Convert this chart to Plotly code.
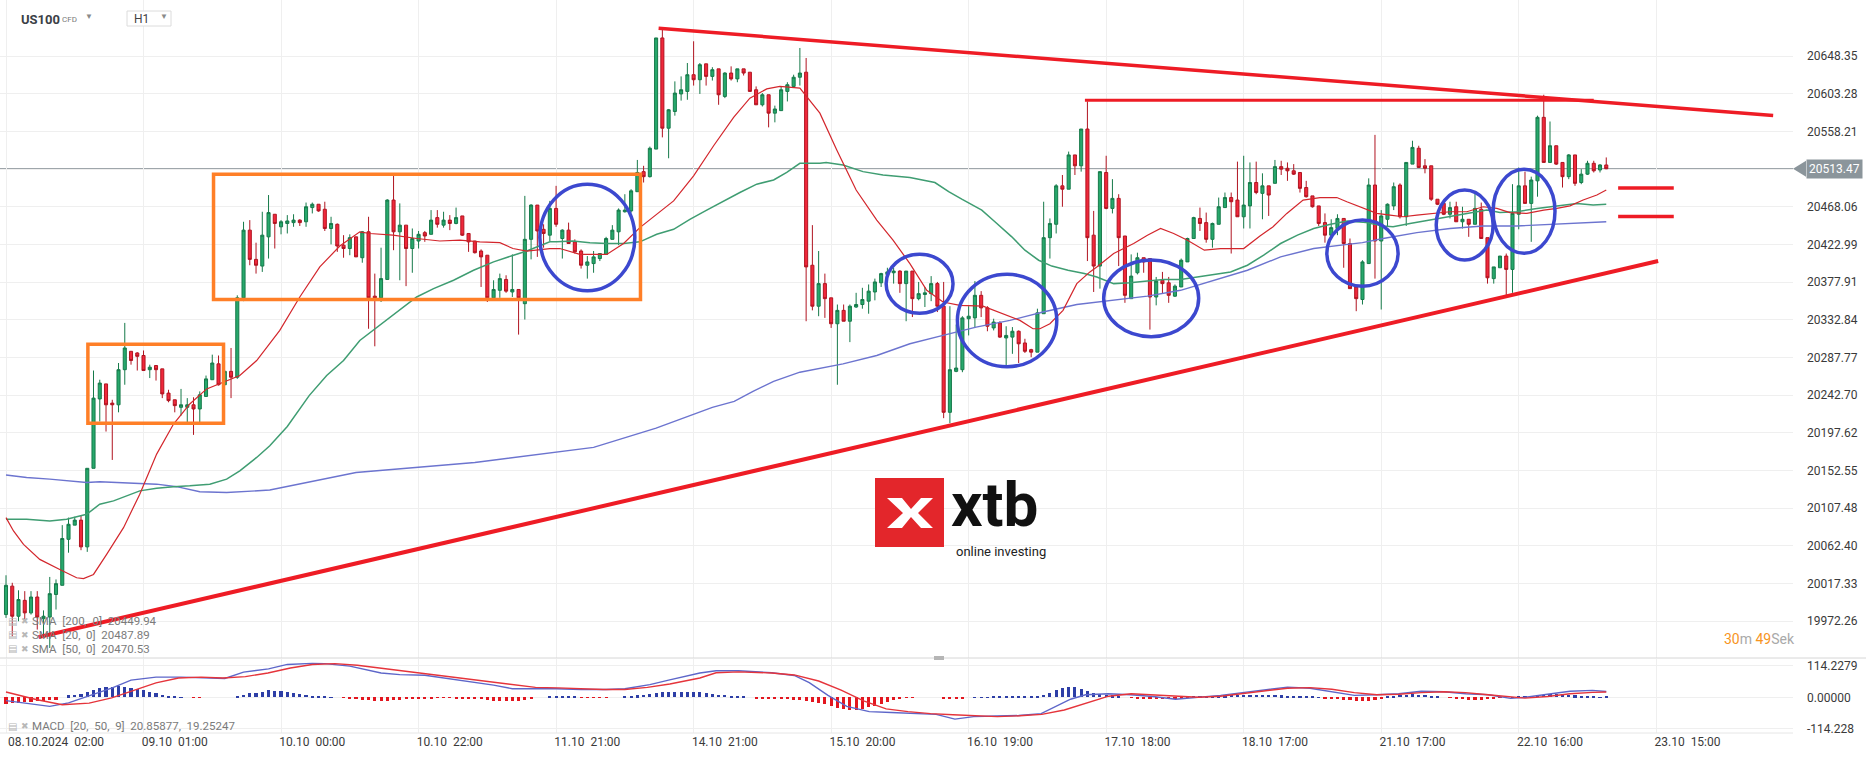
import plotly.graph_objects as go
from plotly.subplots import make_subplots

# ---------------- DATA ----------------
opens = [19980, 20014, 19978, 19997, 19982, 20001, 19975, 19977, 20004, 20015,
         20070, 20087, 20093, 20061, 20155, 20238, 20256, 20233, 20231, 20273,
         20295, 20293, 20290, 20273, 20278, 20274, 20245, 20237, 20228, 20228,
         20231, 20226, 20241, 20261, 20280, 20255, 20271, 20264, 20359, 20440,
         20405, 20397, 20432, 20459, 20444, 20448, 20449, 20452, 20450, 20467,
         20471, 20465, 20442, 20447, 20422, 20418, 20432, 20407, 20438, 20361,
         20359, 20381, 20476, 20438, 20446, 20418, 20427, 20437, 20435, 20455,
         20446, 20452, 20448, 20457, 20436, 20427, 20415, 20410, 20359, 20368,
         20381, 20366, 20369, 20352, 20429, 20470, 20441, 20434, 20466, 20430,
         20440, 20426, 20415, 20398, 20400, 20406, 20411, 20429, 20438, 20462,
         20463, 20486, 20510, 20504, 20537, 20670, 20562, 20582, 20603, 20606,
         20626, 20620, 20639, 20624, 20633, 20600, 20628, 20621, 20633, 20629,
         20608, 20590, 20602, 20580, 20583, 20606, 20612, 20623, 20629, 20398,
         20349, 20376, 20359, 20328, 20344, 20331, 20348, 20351, 20355, 20366,
         20377, 20387, 20389, 20391, 20376, 20391, 20358, 20363, 20364, 20376,
         20349, 20222, 20271, 20273, 20334, 20335, 20362, 20347, 20323, 20329,
         20311, 20312, 20319, 20305, 20297, 20294, 20340, 20431, 20447, 20493,
         20489, 20530, 20517, 20561, 20434, 20397, 20509, 20466, 20478, 20433,
         20358, 20389, 20407, 20406, 20360, 20380, 20377, 20361, 20372, 20402,
         20430, 20454, 20449, 20429, 20447, 20467, 20479, 20476, 20456, 20469,
         20497, 20484, 20493, 20496, 20516, 20514, 20511, 20509, 20491, 20481,
         20469, 20449, 20434, 20442, 20454, 20424, 20372, 20357, 20400, 20494,
         20427, 20453, 20469, 20494, 20456, 20519, 20538, 20517, 20517, 20477,
         20472, 20459, 20468, 20450, 20453, 20447, 20465, 20431, 20382, 20395,
         20409, 20393, 20459, 20493, 20472, 20499, 20575, 20521, 20541, 20521,
         20504, 20530, 20497, 20507, 20520, 20512, 20518]
highs = [20027, 20018, 20009, 20008, 20008, 20008, 19985, 20025, 20022, 20087,
         20096, 20097, 20098, 20155, 20272, 20261, 20256, 20237, 20281, 20329,
         20295, 20294, 20296, 20279, 20278, 20274, 20249, 20237, 20250, 20239,
         20240, 20247, 20266, 20291, 20290, 20272, 20299, 20362, 20450, 20452,
         20425, 20462, 20482, 20459, 20452, 20458, 20459, 20453, 20473, 20473,
         20471, 20474, 20456, 20448, 20434, 20435, 20432, 20439, 20456, 20388,
         20419, 20477, 20506, 20472, 20446, 20442, 20439, 20439, 20464, 20464,
         20462, 20458, 20467, 20457, 20436, 20427, 20417, 20410, 20380, 20388,
         20386, 20411, 20369, 20481, 20471, 20470, 20447, 20475, 20493, 20441,
         20449, 20429, 20417, 20409, 20415, 20412, 20432, 20446, 20466, 20483,
         20489, 20524, 20517, 20540, 20670, 20680, 20585, 20618, 20624, 20640,
         20666, 20640, 20639, 20635, 20633, 20629, 20636, 20633, 20633, 20629,
         20612, 20604, 20602, 20589, 20612, 20617, 20626, 20658, 20646, 20446,
         20415, 20388, 20359, 20351, 20351, 20351, 20365, 20371, 20375, 20382,
         20389, 20395, 20395, 20392, 20391, 20391, 20378, 20372, 20385, 20378,
         20378, 20349, 20327, 20337, 20349, 20379, 20367, 20349, 20334, 20331,
         20325, 20324, 20320, 20310, 20298, 20346, 20474, 20454, 20495, 20506,
         20534, 20530, 20561, 20594, 20463, 20510, 20529, 20501, 20483, 20433,
         20411, 20413, 20407, 20406, 20384, 20390, 20384, 20375, 20406, 20431,
         20456, 20467, 20461, 20449, 20479, 20485, 20485, 20522, 20529, 20521,
         20522, 20508, 20493, 20524, 20523, 20521, 20519, 20509, 20499, 20481,
         20469, 20460, 20453, 20459, 20454, 20430, 20372, 20404, 20502, 20554,
         20464, 20472, 20497, 20496, 20521, 20547, 20541, 20525, 20517, 20477,
         20472, 20474, 20474, 20468, 20453, 20487, 20473, 20431, 20396, 20409,
         20412, 20495, 20515, 20510, 20504, 20577, 20602, 20570, 20541, 20521,
         20531, 20530, 20513, 20523, 20523, 20519, 20527]
lows = [19976, 19954, 19972, 19972, 19980, 19962, 19956, 19940, 19986, 20015,
        20054, 20087, 20057, 20055, 20155, 20211, 20199, 20165, 20222, 20255,
        20279, 20272, 20272, 20263, 20260, 20239, 20234, 20222, 20218, 20210,
        20195, 20210, 20241, 20261, 20254, 20255, 20239, 20262, 20355, 20398,
        20388, 20390, 20406, 20418, 20435, 20436, 20444, 20445, 20444, 20460,
        20462, 20439, 20423, 20414, 20407, 20410, 20408, 20401, 20322, 20301,
        20354, 20381, 20416, 20380, 20373, 20389, 20418, 20426, 20435, 20443,
        20443, 20440, 20447, 20433, 20414, 20412, 20372, 20354, 20359, 20359,
        20365, 20360, 20315, 20333, 20405, 20408, 20419, 20427, 20444, 20406,
        20424, 20412, 20394, 20382, 20389, 20403, 20411, 20429, 20422, 20461,
        20461, 20486, 20497, 20503, 20537, 20551, 20526, 20577, 20595, 20596,
        20613, 20603, 20613, 20619, 20590, 20598, 20619, 20617, 20625, 20606,
        20590, 20588, 20563, 20569, 20583, 20594, 20611, 20613, 20331, 20344,
        20337, 20335, 20323, 20255, 20331, 20306, 20347, 20346, 20340, 20356,
        20372, 20384, 20376, 20365, 20331, 20336, 20356, 20348, 20355, 20342,
        20215, 20209, 20270, 20270, 20314, 20324, 20336, 20319, 20320, 20311,
        20278, 20292, 20281, 20293, 20288, 20294, 20340, 20406, 20436, 20468,
        20489, 20506, 20510, 20403, 20366, 20370, 20465, 20460, 20397, 20353,
        20358, 20387, 20389, 20321, 20350, 20364, 20353, 20360, 20372, 20402,
        20430, 20439, 20425, 20419, 20447, 20467, 20412, 20456, 20442, 20442,
        20483, 20453, 20457, 20496, 20506, 20499, 20506, 20485, 20479, 20467,
        20445, 20425, 20432, 20434, 20395, 20370, 20343, 20351, 20400, 20382,
        20345, 20444, 20464, 20454, 20445, 20519, 20515, 20508, 20475, 20470,
        20458, 20454, 20450, 20442, 20432, 20447, 20430, 20376, 20376, 20395,
        20362, 20365, 20441, 20472, 20426, 20480, 20521, 20521, 20518, 20491,
        20501, 20493, 20495, 20506, 20509, 20509, 20513]
closes = [20015, 19978, 19998, 19982, 20001, 19977, 19978, 20005, 20017, 20071,
          20088, 20093, 20061, 20155, 20239, 20257, 20231, 20231, 20273, 20299,
          20284, 20289, 20272, 20276, 20273, 20244, 20236, 20230, 20231, 20231,
          20226, 20243, 20262, 20281, 20255, 20271, 20264, 20359, 20440, 20405,
          20398, 20434, 20461, 20448, 20450, 20451, 20452, 20449, 20468, 20471,
          20463, 20442, 20448, 20421, 20418, 20431, 20408, 20438, 20359, 20359,
          20382, 20476, 20438, 20446, 20418, 20430, 20435, 20433, 20452, 20447,
          20452, 20448, 20455, 20434, 20426, 20413, 20408, 20359, 20369, 20382,
          20367, 20369, 20359, 20429, 20470, 20439, 20436, 20466, 20447, 20440,
          20424, 20414, 20398, 20402, 20408, 20412, 20430, 20440, 20464, 20464,
          20487, 20509, 20504, 20538, 20670, 20562, 20584, 20604, 20608, 20626,
          20620, 20638, 20624, 20632, 20602, 20628, 20621, 20633, 20628, 20606,
          20590, 20602, 20580, 20585, 20608, 20614, 20623, 20628, 20396, 20349,
          20376, 20358, 20328, 20344, 20331, 20349, 20351, 20357, 20367, 20378,
          20388, 20390, 20391, 20376, 20391, 20358, 20364, 20365, 20376, 20349,
          20222, 20273, 20275, 20335, 20337, 20362, 20347, 20325, 20330, 20312,
          20314, 20319, 20304, 20295, 20294, 20341, 20431, 20448, 20493, 20489,
          20530, 20517, 20561, 20431, 20397, 20510, 20466, 20478, 20431, 20362,
          20385, 20407, 20402, 20360, 20379, 20376, 20362, 20373, 20404, 20430,
          20455, 20448, 20429, 20448, 20468, 20479, 20474, 20456, 20470, 20497,
          20485, 20493, 20482, 20516, 20513, 20511, 20507, 20490, 20480, 20468,
          20448, 20434, 20443, 20454, 20424, 20370, 20358, 20402, 20494, 20427,
          20457, 20471, 20492, 20456, 20521, 20539, 20515, 20514, 20477, 20471,
          20459, 20467, 20450, 20453, 20447, 20466, 20430, 20383, 20396, 20409,
          20393, 20460, 20493, 20472, 20500, 20575, 20521, 20541, 20519, 20504,
          20530, 20496, 20507, 20520, 20511, 20518, 20513.47]
bar_idx = list(range(len(closes)))

# moving averages sampled along the curves (bar index, price)
sma20_idx = [0, 1.2, 2.8, 5.4, 8.6, 11.3, 12.4, 14, 16.1, 18.8, 21.4, 24.1, 26.8, 29.4, 32.1, 34.8,
             37.4, 40.1, 43.8, 47, 50.2, 53.4, 56.6, 58.2, 61.9, 65.7, 69.4, 72.6, 75.8, 79, 81.1,
             83.3, 87, 88.6, 91.8, 96.1, 98.8, 101.4, 104.1, 106.8, 110, 113.2, 116.4, 119, 121.7,
             123.8, 127, 128.6, 130.2, 132.9, 136, 139.3, 141.9, 144.6, 147.3, 149.9, 152.6, 156.3,
             159.5, 162.2, 164.3, 165.4, 167, 169.1, 171.3, 173.4, 174.5, 177.2, 180.4, 182.6,
             184.7, 186.8, 189, 191.7, 194.3, 198, 200.6, 202.7, 204.9, 207.5, 210.2, 212.9, 214.5,
             217.1, 219.3, 221.4, 223.5, 225.7, 228.9, 231, 233.7, 236.3, 238.5, 240.6, 243.3, 246,
             248.1, 250.2, 252.3, 254.5, 256]
sma20_val = [20096, 20080, 20064, 20046, 20034, 20024, 20023, 20028, 20052, 20084, 20124, 20172,
             20208, 20232, 20250, 20258, 20266, 20284, 20320, 20360, 20396, 20421, 20438, 20436,
             20434, 20430, 20427, 20428, 20426, 20425, 20418, 20415, 20418, 20418, 20411, 20411,
             20424, 20443, 20459, 20475, 20505, 20541, 20575, 20598, 20609, 20612, 20610, 20595,
             20580, 20536, 20488, 20452, 20428, 20400, 20368, 20354, 20350, 20349, 20340, 20332,
             20322, 20322, 20328, 20344, 20376, 20390, 20396, 20412, 20424, 20434, 20442, 20436,
             20428, 20416, 20418, 20418, 20433, 20444, 20460, 20476, 20479, 20479, 20474, 20466,
             20460, 20458, 20456, 20458, 20460, 20462, 20462, 20468, 20466, 20461, 20460, 20464,
             20466, 20469, 20476, 20482, 20488]
sma50_idx = [0, 3.3, 7, 9.7, 12.9, 15, 17.2, 19.3, 21.4, 24.1, 26.8, 29.4, 32.6, 35.3, 37.4, 40.1,
             42.2, 45, 48.5, 51.3, 54, 56.6, 59.8, 63, 65.7, 68.4, 71.6, 74.8, 78, 81.2, 83.3, 87,
             88.1, 90.7, 93.4, 96.1, 98.8, 101.4, 104.1, 106.8, 109.4, 112.1, 114.8, 117.4, 120.1,
             122.8, 124.9, 127, 130.2, 131.2, 133.9, 137.1, 140.3, 144.6, 148.6, 150.8, 152.9,
             156.1, 158.2, 160.9, 163, 165.2, 167.3, 169.9, 172.5, 174.5, 177.2, 179.8, 182.6,
             185.2, 187.9, 190.6, 193.2, 195.9, 198.6, 201.2, 203.9, 206.6, 209.2, 211.9, 214.6,
             217.6, 220.3, 221.9, 224.6, 227.8, 231, 234.2, 236.9, 239, 241.7, 244.9, 248.1, 251.3,
             253.9, 256]
sma50_val = [20094, 20094, 20092, 20094, 20100, 20112, 20116, 20122, 20128, 20131, 20133, 20134,
             20136, 20142, 20152, 20168, 20182, 20205, 20242, 20266, 20284, 20308, 20326, 20344,
             20360, 20370, 20380, 20392, 20402, 20410, 20415, 20426, 20426, 20427, 20425, 20424,
             20424, 20426, 20435, 20441, 20453, 20464, 20475, 20485, 20495, 20500, 20509, 20520,
             20520, 20521, 20518, 20510, 20506, 20503, 20497, 20486, 20477, 20464, 20450, 20432,
             20416, 20404, 20397, 20392, 20388, 20384, 20376, 20377, 20379, 20381, 20381, 20384,
             20387, 20390, 20398, 20410, 20424, 20434, 20442, 20447, 20451, 20449, 20445, 20444,
             20448, 20452, 20456, 20460, 20464, 20461, 20462, 20466, 20469, 20472, 20470, 20471]
sma200_idx = [0, 3.3, 7, 9.7, 12.9, 15, 17.7, 21.4, 24.1, 27.3, 31, 35.3, 37.4, 42.2, 56, 75, 94,
              104, 113, 116.5, 119.5, 122.8, 127, 130.2, 133.9, 139.3, 144.6, 149.9, 155.2, 160.6,
              165.9, 171.3, 173.4, 177.2, 182.6, 187.9, 193.2, 198.6, 203.9, 209.2, 214.6, 217,
              220.3, 225.7, 231, 236.3, 241.7, 247, 252.3, 256]
sma200_val = [20147, 20144, 20142, 20140, 20138, 20139, 20138, 20137, 20136, 20133, 20127, 20126,
              20127, 20129, 20150, 20162, 20180, 20203, 20228, 20235, 20247, 20259, 20270, 20275,
              20280, 20290, 20304, 20314, 20324, 20332, 20342, 20351, 20353, 20356, 20361, 20368,
              20380, 20392, 20408, 20418, 20423, 20425, 20430, 20437, 20442, 20445, 20445, 20447,
              20449, 20450]

# MACD pane
macd_idx = [0, 7, 10, 13, 17, 20, 24, 28, 31, 35, 38, 42, 45, 49, 51, 55, 60, 63, 67, 70, 74, 78,
            81, 85, 88, 92, 96, 99, 103, 106, 111, 113.6, 117.2, 122.5, 126.1, 128.5, 131.5,
            134.5, 138.1, 141.6, 145.2, 148.8, 151.8, 154.8, 158.4, 162, 165.6, 168, 170.3,
            172.7, 176.3, 179.9, 183.5, 187.1, 190.7, 194.3, 197.8, 201.4, 205, 208.6, 212.1,
            215.7, 219.3, 222.8, 226.4, 230, 233.5, 237.1, 240.7, 243.1, 246.6, 250.2, 253.8, 256]
macd_val = [-12, -33, -20, 4, 34, 62, 73, 73, 70, 68, 91, 103, 119, 123, 122, 113, 88, 82, 80, 70,
            58, 44, 31, 31, 31, 28, 28, 31, 46, 62, 88, 96, 96, 89, 79, 53, 7, -33, -52, -55, -59,
            -62, -79, -70, -68, -66, -59, -33, -7, 9, 13, 9, 3, -7, 0, 7, 17, 26, 37, 33, 20, 7, 9,
            13, 22, 20, 13, 9, -4, 0, 11, 22, 25, 21]
signal_idx = [0, 4.8, 9, 13.3, 16.9, 20.5, 24, 27.6, 31.2, 34.7, 38.3, 41.9, 45.5, 49, 52.6, 56.2,
              59.7, 63.3, 66.9, 70.5, 74, 77.6, 81.2, 84.7, 88.3, 91.9, 95.5, 99, 102.6, 106.2, 111,
              113.6, 117.2, 122.5, 126.1, 130, 133.6, 137.2, 140.8, 144.3, 147.9, 151.5, 155,
              158.6, 162.2, 165.7, 169.3, 172.9, 176.4, 180, 183.6, 187.1, 190.7, 194.3, 197.9,
              201.4, 205, 208.6, 212.1, 215.7, 219.3, 222.8, 226.4, 230, 233.5, 237.1, 240.7, 243,
              246.6, 250.2, 253.8, 256]
signal_val = [19, -8, -27, -21, -2, 24, 52, 70, 73, 70, 75, 88, 106, 119, 122, 116, 106, 97, 87, 76,
              67, 54, 44, 36, 34, 31, 28, 28, 36, 48, 70, 89, 92, 88, 81, 59, 26, -13, -42, -52, -59,
              -63, -67, -70, -67, -62, -46, -22, 4, 13, 9, 3, 0, 4, 13, 22, 33, 35, 29, 17, 9, 11,
              17, 20, 17, 9, 3, -3, 3, 13, 18, 19]
hist_val = [-24, -22, -20, -18, -16, -14, -12, -10, -8, 0,
            7, 10, 12, 20, 25, 32, 37, 39, 40, 37, 32, 29, 25, 20, 15, 10, 5, 2, 1, 0,
            -2, -1, 0, 0, 0, 0, 0,
            4, 10, 14, 17, 20, 25, 22, 22, 20, 17, 12, 9, 5, 2, 2, 1, 0,
            -2, -5, -6, -9, -11, -15, -15, -12, -10, -9, -7, -5, -4, -3, -3, -2, -2, -2, -3, -3,
            -3, -3, -5, -9, -12, -15, -15, -15, -12, -9, -4,
            0, 0, 2, 2, 2, 2, 2, -2, -2, -2, -2, -2, 0, 0,
            3, 5, 7, 10, 13, 16, 18, 20, 20, 20, 20, 20, 20,
            15, 13, 10, 8, 6, 4, 2, 0,
            -4, -4, -5, -5, -6, -7, -8, -10, -12, -16, -20, -26, -32, -38, -43, -47, -46, -42, -36,
            -30, -23, -16, -10, -5,
            -2, -1, 0, 0, 0, 0, -5, -7, -7, -5, 0, 1,
            1, 1, 2, 2, 2, 2, 3, 3, 4, 5,
            10, 17, 26, 35, 39, 36, 30, 22, 17, 13, 10, 7, 4, 0,
            -2, -3, -4, -5, -6, -6, -5, -4, -3, -2,
            2, 3, 4, 5, 6, 7, 8, 9, 10, 10, 10, 10, 9, 8, 7, 6, 5, 4, 3, 2, 1,
            -3, -5, -7, -9, -11, -13, -14, -12, -9, -5,
            3, 5, 8, 10, 11, 10, 8, 5, 3, 0,
            -2, -4, -6, -8, -9, -8, -6, -4, -2, 0, 1,
            2, 4, 6, 8, 10, 11, 11, 10, 9, 7, 5, 3, 2, 1, 2]

# axis labels
price_ticks = [20648.35, 20603.28, 20558.21, 20513.14, 20468.06, 20422.99, 20377.91, 20332.84,
               20287.77, 20242.70, 20197.62, 20152.55, 20107.48, 20062.40, 20017.33, 19972.26,
               19927.18]
price_tick_text = ["20648.35", "20603.28", "20558.21", "", "20468.06", "20422.99", "20377.91",
                   "20332.84", "20287.77", "20242.70", "20197.62", "20152.55", "20107.48",
                   "20062.40", "20017.33", "19972.26", "19927.18"]
macd_ticks = [114.2279, 0.0, -114.228]
macd_tick_text = ["114.2279", "0.00000", "-114.228"]
time_tick_idx = [27, 49, 71, 93, 115, 137, 159, 181, 203, 225, 247, 269]
time_tick_text = ["09.10  01:00", "10.10  00:00", "10.10  22:00", "11.10  21:00", "14.10  21:00",
                  "15.10  20:00", "16.10  19:00", "17.10  18:00", "18.10  17:00", "21.10  17:00",
                  "22.10  16:00", "23.10  15:00"]
first_time_label = "08.10.2024  02:00"
grid_idx = list(range(0, 287, 22))
last_price = 20513.47
legend_lines = ["SMA  [200,  0]  20449.94", "SMA  [20,  0]  20487.89", "SMA  [50,  0]  20470.53"]
macd_legend = "MACD  [20,  50,  9]  20.85877,  19.25247"

# drawings on the chart (bar index, price)
boxes = [(13.1, 34.8, 20208.8, 20303.4), (33.2, 101.5, 20357, 20507)]
ellipses = [(85.4, 100.6, 20367.5, 20494.8), (140.8, 151.5, 20340.5, 20411.1),
            (152.2, 168.1, 20276.6, 20387.1), (175.6, 190.8, 20312.5, 20404.3),
            (211.3, 222.7, 20372.9, 20452.0), (228.8, 237.9, 20404.3, 20488.0),
            (237.9, 247.8, 20412.3, 20512.8)]
trend_lines = [((104.4, 20681.5), (282.7, 20577.3), 3.5),
               ((172.6, 20595.5), (254.0, 20595.5), 3.0),
               ((5.2, 19953.0), (264.3, 20403.0), 4.0),
               ((257.9, 20490.4), (266.8, 20490.4), 3.5),
               ((257.9, 20456.2), (266.8, 20456.2), 3.5)]

# ---------------- FIGURE ----------------
W, H = 1866, 759
ML, MR, MT, MB = 0, 73, 0, 26
PW, PH = W - ML - MR, H - MT - MB


def pxx(x):
    return (x - ML) / PW


def pxy(y):
    return (PH - (y - MT)) / PH


FONT = "Roboto, 'Open Sans', sans-serif"
GREEN_F, GREEN_L = "#27a86c", "#167a4a"
RED_F, RED_L = "#f0283b", "#b01420"
GRID = "#efefef"

fig = make_subplots(rows=2, cols=1, shared_xaxes=True, vertical_spacing=0)

fig.add_trace(go.Scatter(x=sma200_idx, y=sma200_val, mode="lines",
                         line=dict(color="#6c74cf", width=1.4), hoverinfo="skip"), row=1, col=1)
fig.add_trace(go.Scatter(x=sma50_idx, y=sma50_val, mode="lines",
                         line=dict(color="#3f9d72", width=1.5), hoverinfo="skip"), row=1, col=1)
fig.add_trace(go.Scatter(x=sma20_idx, y=sma20_val, mode="lines",
                         line=dict(color="#d3262c", width=1.2), hoverinfo="skip"), row=1, col=1)

fig.add_trace(go.Candlestick(
    x=bar_idx, open=opens, high=highs, low=lows, close=closes,
    increasing=dict(line=dict(color=GREEN_L, width=1), fillcolor=GREEN_F),
    decreasing=dict(line=dict(color=RED_L, width=1), fillcolor=RED_F),
    whiskerwidth=0), row=1, col=1)

hist_colors = ["#2d3ea6" if v >= 0 else "#e3161f" for v in hist_val]
fig.add_trace(go.Bar(x=bar_idx, y=hist_val, marker=dict(color=hist_colors, line=dict(width=0)),
                     width=0.5), row=2, col=1)
fig.add_trace(go.Scatter(x=macd_idx, y=macd_val, mode="lines",
                         line=dict(color="#5d66c9", width=1.4)), row=2, col=1)
fig.add_trace(go.Scatter(x=signal_idx, y=signal_val, mode="lines",
                         line=dict(color="#e5343b", width=1.4)), row=2, col=1)

xr = [-6 / 6.251, (PW - 6) / 6.251]
axis_common = dict(range=xr, showline=False, zeroline=False,
                   tickvals=time_tick_idx, ticktext=time_tick_text, ticks="",
                   showgrid=False,
                   minor=dict(tickvals=grid_idx, showgrid=True, gridcolor=GRID, gridwidth=1, ticks=""))
fig.update_xaxes(**axis_common)
fig.update_xaxes(showticklabels=False, rangeslider=dict(visible=False), row=1, col=1)
fig.update_xaxes(showticklabels=True, tickfont=dict(family=FONT, size=12, color="#3a3a3a"),
                 row=2, col=1)

fig.update_yaxes(side="right", range=[19928.0, 20715.4], tickvals=price_ticks,
                 ticktext=price_tick_text, showgrid=True, gridcolor=GRID, zeroline=False,
                 ticks="", ticklabelstandoff=13,
                 tickfont=dict(family=FONT, size=12, color="#3a3a3a"),
                 domain=[(PH - 658) / PH, 1], row=1, col=1)
fig.update_yaxes(side="right", range=[-129.3, 138.7], tickvals=macd_ticks,
                 ticktext=macd_tick_text, showgrid=True, gridcolor=GRID, zeroline=False,
                 ticks="", ticklabelstandoff=13,
                 tickfont=dict(family=FONT, size=12, color="#3a3a3a"),
                 domain=[0, (PH - 659) / PH], row=2, col=1)

shapes = []
# pane separators
shapes.append(dict(type="line", xref="paper", yref="paper", x0=0, x1=1 + 73 / PW,
                   y0=pxy(658), y1=pxy(658), line=dict(color="#d6d6d6", width=1)))
shapes.append(dict(type="line", xref="paper", yref="paper", x0=0, x1=1,
                   y0=pxy(733), y1=pxy(733), line=dict(color="#e6e6e6", width=1)))
shapes.append(dict(type="rect", xref="paper", yref="paper", x0=pxx(934), x1=pxx(944),
                   y0=pxy(660), y1=pxy(656), fillcolor="#b5b5b5", line=dict(width=0)))
# last price line
shapes.append(dict(type="line", xref="paper", yref="y", x0=0, x1=1, y0=last_price, y1=last_price,
                   line=dict(color="#7f898f", width=1), layer="below"))
shapes.append(dict(type="path", xref="paper", yref="y",
                   path=f"M {pxx(1793)},{last_price} L {pxx(1806)},{last_price + 9.6} "
                        f"L {pxx(1806)},{last_price - 9.6} Z",
                   fillcolor="#8b959b", line=dict(width=0)))
for x0, x1, y0, y1 in boxes:
    shapes.append(dict(type="rect", xref="x", yref="y", x0=x0, x1=x1, y0=y0, y1=y1,
                       line=dict(color="#ff7f27", width=3.5)))
for x0, x1, y0, y1 in ellipses:
    shapes.append(dict(type="circle", xref="x", yref="y", x0=x0, x1=x1, y0=y0, y1=y1,
                       line=dict(color="#3c48cf", width=3.5)))
for (xa, ya), (xb, yb), wdt in trend_lines:
    shapes.append(dict(type="line", xref="x", yref="y", x0=xa, y0=ya, x1=xb, y1=yb,
                       line=dict(color="#ee1c25", width=wdt)))
# xtb logo
shapes.append(dict(type="rect", xref="paper", yref="paper", x0=pxx(875), x1=pxx(944),
                   y0=pxy(547), y1=pxy(478), fillcolor="#e3262b", line=dict(width=0)))
xpts = [(12, 20), (27, 20), (36, 31), (46, 20), (58, 20), (43, 35), (58, 50), (46, 50),
        (36, 39), (27, 50), (12, 50), (28, 35)]
path = "M " + " L ".join(f"{pxx(875 + a)},{pxy(478 + b)}" for a, b in xpts) + " Z"
shapes.append(dict(type="path", xref="paper", yref="paper", path=path,
                   fillcolor="white", line=dict(width=0)))
# header H1 box
shapes.append(dict(type="rect", xref="paper", yref="paper", x0=pxx(127), x1=pxx(171),
                   y0=pxy(26), y1=pxy(11), fillcolor="white", line=dict(color="#dcdcdc", width=1)))

ann = []
ann.append(dict(x=pxx(1806), y=last_price, xref="paper", yref="y", text=str(last_price),
                showarrow=False, xanchor="left", yanchor="middle", bgcolor="#8b959b",
                font=dict(family=FONT, size=12, color="white"), borderpad=2))
ann.append(dict(x=0, y=pxy(742), xref="x", yref="paper", text=first_time_label, showarrow=False,
                xanchor="left", yanchor="middle", font=dict(family=FONT, size=12, color="#3a3a3a")))
# brand text (boxes kept apart)
ann.append(dict(x=pxx(950), y=pxy(467.5), xref="paper", yref="paper", text="<b>xtb</b>",
                showarrow=False, xanchor="left", yanchor="top", borderpad=0,
                font=dict(family="Roboto, sans-serif", size=62, color="#111111")))
ann.append(dict(x=pxx(955), y=pxy(542.5), xref="paper", yref="paper", text="online investing",
                showarrow=False, xanchor="left", yanchor="top", borderpad=0,
                font=dict(family="Roboto, sans-serif", size=13, color="#222222")))
# header
ann.append(dict(x=pxx(19), y=pxy(19), xref="paper", yref="paper", text="<b>US100</b>",
                showarrow=False, xanchor="left", yanchor="middle",
                font=dict(family=FONT, size=13, color="#3b4046")))
ann.append(dict(x=pxx(60), y=pxy(20), xref="paper", yref="paper", text="CFD", showarrow=False,
                xanchor="left", yanchor="middle", font=dict(family=FONT, size=8, color="#7a7a7a")))
ann.append(dict(x=pxx(83), y=pxy(17), xref="paper", yref="paper", text="▼", showarrow=False,
                xanchor="left", yanchor="middle", font=dict(family=FONT, size=8, color="#8a8a8a")))
ann.append(dict(x=pxx(132), y=pxy(19), xref="paper", yref="paper", text="H1", showarrow=False,
                xanchor="left", yanchor="middle", font=dict(family=FONT, size=12, color="#444")))
ann.append(dict(x=pxx(158), y=pxy(17), xref="paper", yref="paper", text="▼", showarrow=False,
                xanchor="left", yanchor="middle", font=dict(family=FONT, size=8, color="#8a8a8a")))
# indicator legends
for i, txt in enumerate(legend_lines):
    yy = pxy(621 + i * 13.8)
    ann.append(dict(x=pxx(6), y=yy, xref="paper", yref="paper", text="▤", showarrow=False,
                    xanchor="left", yanchor="middle", font=dict(family="DejaVu Sans", size=10, color="#b8b8b8")))
    ann.append(dict(x=pxx(19), y=yy, xref="paper", yref="paper", text="✖", showarrow=False,
                    xanchor="left", yanchor="middle", font=dict(family="DejaVu Sans", size=9, color="#b8b8b8")))
    ann.append(dict(x=pxx(30), y=yy, xref="paper", yref="paper", text=txt, showarrow=False,
                    xanchor="left", yanchor="middle", font=dict(family=FONT, size=11.5, color="#7b7b7b")))
yy = pxy(726)
ann.append(dict(x=pxx(6), y=yy, xref="paper", yref="paper", text="▤", showarrow=False,
                xanchor="left", yanchor="middle", font=dict(family="DejaVu Sans", size=10, color="#b8b8b8")))
ann.append(dict(x=pxx(19), y=yy, xref="paper", yref="paper", text="✖", showarrow=False,
                xanchor="left", yanchor="middle", font=dict(family="DejaVu Sans", size=9, color="#b8b8b8")))
ann.append(dict(x=pxx(30), y=yy, xref="paper", yref="paper", text=macd_legend, showarrow=False,
                xanchor="left", yanchor="middle", font=dict(family=FONT, size=11.5, color="#7b7b7b")))
# countdown
ann.append(dict(x=pxx(1797), y=pxy(639), xref="paper", yref="paper",
                text="<span style='color:#f7941d'>30</span><span style='color:#a9a9a9'>m </span>"
                     "<span style='color:#f7941d'>49</span><span style='color:#a9a9a9'>Sek</span>",
                showarrow=False, xanchor="right", yanchor="middle",
                font=dict(family=FONT, size=14)))

fig.update_layout(width=W, height=H, margin=dict(l=ML, r=MR, t=MT, b=MB),
                  paper_bgcolor="white", plot_bgcolor="white", showlegend=False,
                  shapes=shapes, annotations=ann, bargap=0,
                  font=dict(family=FONT, color="#3a3a3a"), hovermode=False)

fig.write_html("out.html", config={"displayModeBar": False},
               post_script="document.body.style.margin='0';document.body.style.overflow='hidden';")
